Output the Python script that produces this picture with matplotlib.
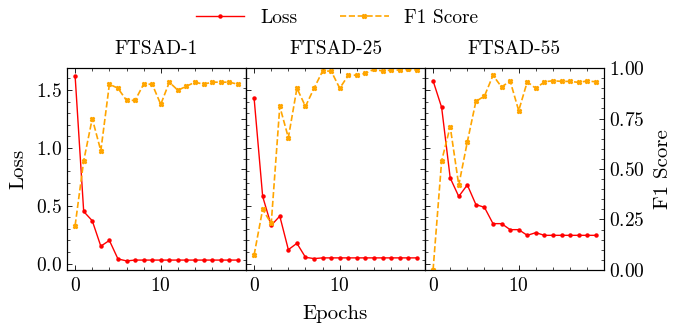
import matplotlib
matplotlib.use("Agg")
import matplotlib.pyplot as plt
from matplotlib.ticker import MultipleLocator

plt.rcParams['font.family'] = 'serif'
plt.rcParams['font.serif'] = ['cmr10']
plt.rcParams['mathtext.fontset'] = 'cm'
plt.rcParams['axes.formatter.use_mathtext'] = True
plt.rcParams['font.size'] = 14

epochs = list(range(20))
titles = ["FTSAD-1", "FTSAD-25", "FTSAD-55"]

loss_ftsad1 = [1.62, 0.45, 0.37, 0.15, 0.20, 0.04, 0.023, 0.03, 0.03, 0.03,
               0.03, 0.03, 0.03, 0.03, 0.03, 0.03, 0.03, 0.03, 0.03, 0.03]
f1_ftsad1 = [0.22, 0.54, 0.75, 0.59, 0.92, 0.90, 0.84, 0.84, 0.92, 0.92,
             0.82, 0.93, 0.89, 0.91, 0.93, 0.92, 0.93, 0.93, 0.93, 0.92]

loss_ftsad25 = [1.43, 0.58, 0.33, 0.41, 0.12, 0.175, 0.054, 0.043, 0.049, 0.049,
                0.049, 0.049, 0.049, 0.049, 0.049, 0.049, 0.049, 0.049, 0.049, 0.049]
f1_ftsad25 = [0.074, 0.30, 0.23, 0.81, 0.655, 0.90, 0.81, 0.90, 0.985, 0.985,
              0.90, 0.964, 0.965, 0.974, 0.994, 0.985, 0.99, 0.99, 0.994, 0.99]

loss_ftsad55 = [1.58, 1.35, 0.74, 0.58, 0.68, 0.51, 0.486, 0.345, 0.345, 0.293,
                0.293, 0.244, 0.267, 0.244, 0.244, 0.244, 0.244, 0.244, 0.244, 0.244]
f1_ftsad55 = [0.0, 0.54, 0.71, 0.42, 0.634, 0.835, 0.861, 0.964, 0.906, 0.936,
              0.789, 0.932, 0.899, 0.932, 0.937, 0.934, 0.934, 0.929, 0.936, 0.932]

losses = [loss_ftsad1, loss_ftsad25, loss_ftsad55]
f1s = [f1_ftsad1, f1_ftsad25, f1_ftsad55]

LOSS_C = '#ff0000'
F1_C = '#ffa500'

fig = plt.figure(figsize=(6.74, 3.32), dpi=100)
fig.subplots_adjust(left=0.0994, right=0.896, top=0.795, bottom=0.187, wspace=0)
axes = fig.subplots(1, 3, sharey=True)

def style_ticks(ax):
    ax.tick_params(which='both', direction='in', top=True)
    ax.tick_params(which='major', length=3.5, width=0.6)
    ax.tick_params(which='minor', length=2, width=0.5)
    for s in ax.spines.values():
        s.set_linewidth(0.8)

handles = None
for i, ax in enumerate(axes):
    l1, = ax.plot(epochs, losses[i], color=LOSS_C, lw=1.0, marker='o', ms=2.2, label='Loss')
    ax.set_ylim(-0.055, 1.69)
    ax.set_xlim(-0.95, 19.95)
    ax.xaxis.set_major_locator(MultipleLocator(10))
    ax.xaxis.set_minor_locator(MultipleLocator(2))
    ax.yaxis.set_major_locator(MultipleLocator(0.5))
    ax.yaxis.set_minor_locator(MultipleLocator(0.1))
    style_ticks(ax)
    ax.tick_params(axis='y', which='both', right=False, left=True)
    ax.tick_params(axis='x', pad=5)
    if i > 0:
        ax.tick_params(axis='y', labelleft=False)
    ax.set_title(titles[i], fontsize=14, pad=10)
    ax2 = ax.twinx()
    l2, = ax2.plot(epochs, f1s[i], color=F1_C, lw=1.2, ls='--', marker='X', ms=3, label='F1 Score')
    ax2.set_ylim(0, 1.0)
    ax2.yaxis.set_major_locator(MultipleLocator(0.25))
    ax2.yaxis.set_minor_locator(MultipleLocator(0.05))
    ax2.tick_params(which='both', direction='in')
    ax2.tick_params(which='major', length=3.5, width=0.6)
    ax2.tick_params(which='minor', length=2, width=0.5)
    if i < 2:
        ax2.tick_params(axis='y', labelright=False)
    else:
        ax2.set_ylabel('F1 Score', fontsize=15, labelpad=7)
    handles = [l1, l2]

axes[0].set_ylabel('Loss', fontsize=15, labelpad=6)
axes[1].set_xlabel('Epochs', fontsize=15, labelpad=7)

fig.legend(handles, ['Loss', 'F1 Score'], loc='upper center', bbox_to_anchor=(0.5, 1.025),
           ncol=2, frameon=False, fontsize=14, columnspacing=2.2, handlelength=2.5)

fig.savefig('out.png', dpi=100)
